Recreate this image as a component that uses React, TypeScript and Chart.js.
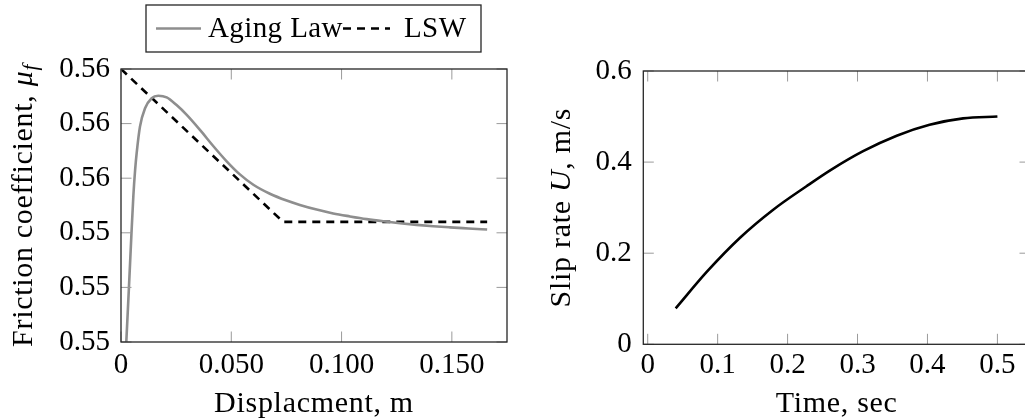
import React, { useEffect, useRef } from 'react';
import { Chart, registerables } from 'chart.js';

Chart.register(...registerables);

// ---------- data ----------
const AGING_X = [0.0024, 0.0036, 0.0047, 0.0056, 0.0064, 0.0071, 0.0086, 0.0109, 0.0139, 0.0169, 0.0207, 0.0252, 0.0298, 0.0358, 0.0418, 0.0479, 0.0539, 0.06, 0.0675, 0.0751, 0.0811, 0.0887, 0.0962, 0.1038, 0.1114, 0.1189, 0.1265, 0.134, 0.1416, 0.1491, 0.1575, 0.166];
const AGING_Y = [0.55, 0.552, 0.5539, 0.55535, 0.5563, 0.55692, 0.55789, 0.55856, 0.55893, 0.55902, 0.55896, 0.55868, 0.55832, 0.55777, 0.55718, 0.55662, 0.55614, 0.55576, 0.55543, 0.55518, 0.55502, 0.55485, 0.55471, 0.5546, 0.5545, 0.55442, 0.55435, 0.55429, 0.55424, 0.5542, 0.55416, 0.55412];
const LSW_X = [0, 0.0735, 0.166];
const LSW_Y = [0.56, 0.5544, 0.5544];

const TIME = [0.04, 0.085, 0.132, 0.179, 0.227, 0.262, 0.308, 0.356, 0.403, 0.451, 0.5];
const SLIP = [0.079, 0.16, 0.234, 0.295, 0.347, 0.383, 0.424, 0.458, 0.482, 0.496, 0.5];

const X1_TICKS = [0, 0.05, 0.1, 0.15];
const X1_LABELS = ['0', '0.050', '0.100', '0.150'];
const Y1_TICKS = [0.55, 0.552, 0.554, 0.556, 0.558, 0.56];
const Y1_LABELS = ['0.55', '0.55', '0.55', '0.56', '0.56', '0.56'];
const X2_TICKS = [0, 0.1, 0.2, 0.3, 0.4, 0.5];
const X2_LABELS = ['0', '0.1', '0.2', '0.3', '0.4', '0.5'];
const Y2_TICKS = [0, 0.2, 0.4, 0.6];
const Y2_LABELS = ['0', '0.2', '0.4', '0.6'];

const SERIES_NAMES = ['Aging Law', 'LSW'];
const X1_TITLE = 'Displacment, m';
const X2_TITLE = 'Time, sec';

// ---------- styles ----------
const SERIF = "'Liberation Serif', 'DejaVu Serif', serif";
const TICK_FONT = { family: SERIF, size: 29, lineHeight: 1.2 };
const TITLE_PX = 30;
const TICK_LEN = 10.5;

type Part = { text: string; italic?: boolean; sub?: boolean };

function drawParts(ctx: CanvasRenderingContext2D, parts: Part[]) {
  const fontOf = (p: Part) => `${p.italic ? 'italic ' : ''}${p.sub ? Math.round(TITLE_PX * 0.7) : TITLE_PX}px ${SERIF}`;
  let total = 0;
  const widths = parts.map((p) => {
    ctx.font = fontOf(p);
    const w = ctx.measureText(p.text).width;
    total += w;
    return w;
  });
  let cur = -total / 2;
  parts.forEach((p, i) => {
    ctx.font = fontOf(p);
    ctx.fillText(p.text, cur, p.sub ? TITLE_PX * 0.17 : 0);
    cur += widths[i];
  });
}

function makeDecor(cfg: { yParts: Part[]; yBaseX: number; xTitle: string; xBaseY: number; legend: boolean }) {
  return {
    id: 'decor',
    afterDatasetsDraw(chart: any) {
      const { ctx, chartArea: a, scales } = chart;
      const xs = scales.x;
      const ys = scales.y;
      ctx.save();
      ctx.strokeStyle = '#9a9a9a';
      ctx.lineWidth = 1;
      ctx.setLineDash([]);
      ctx.beginPath();
      xs.ticks.forEach((t: any) => {
        const px = xs.getPixelForValue(t.value);
        ctx.moveTo(px, a.bottom);
        ctx.lineTo(px, a.bottom - TICK_LEN);
        ctx.moveTo(px, a.top);
        ctx.lineTo(px, a.top + TICK_LEN);
      });
      ys.ticks.forEach((t: any) => {
        const py = ys.getPixelForValue(t.value);
        ctx.moveTo(a.left, py);
        ctx.lineTo(a.left + TICK_LEN, py);
        ctx.moveTo(a.right, py);
        ctx.lineTo(a.right - TICK_LEN, py);
      });
      ctx.stroke();
      ctx.strokeStyle = '#262626';
      ctx.lineWidth = 1.3;
      ctx.strokeRect(a.left, a.top, a.right - a.left, a.bottom - a.top);
      ctx.restore();
    },
    afterDraw(chart: any) {
      const { ctx, chartArea: a } = chart;
      ctx.save();
      ctx.fillStyle = '#000';
      (ctx as any).letterSpacing = '0.7px';
      ctx.textBaseline = 'alphabetic';
      ctx.textAlign = 'left';
      // y title
      ctx.save();
      ctx.translate(cfg.yBaseX, (a.top + a.bottom) / 2);
      ctx.rotate(-Math.PI / 2);
      drawParts(ctx, cfg.yParts);
      ctx.restore();
      // x title
      ctx.save();
      ctx.translate((a.left + a.right) / 2, cfg.xBaseY);
      drawParts(ctx, [{ text: cfg.xTitle }]);
      ctx.restore();
      // legend
      if (cfg.legend) {
        const ds = chart.data.datasets;
        ctx.strokeStyle = '#262626';
        ctx.lineWidth = 1.3;
        ctx.strokeRect(146, 5, 335, 47);
        const lineX = [156, 343];
        const lineW = [45, 47];
        const textX = [208, 404];
        (ctx as any).letterSpacing = '0.4px';
        ctx.font = `29px ${SERIF}`;
        ds.forEach((d: any, i: number) => {
          ctx.save();
          ctx.strokeStyle = d.borderColor;
          ctx.lineWidth = d.borderWidth;
          ctx.setLineDash(d.borderDash || []);
          ctx.beginPath();
          ctx.moveTo(lineX[i], 28.5);
          ctx.lineTo(lineX[i] + lineW[i], 28.5);
          ctx.stroke();
          ctx.restore();
          ctx.fillText(d.label, textX[i], 37);
        });
      }
      ctx.restore();
    },
  };
}

function axis(min: number, max: number, ticks: number[], labels: string[], fit: (s: any) => void, pad: number) {
  return {
    type: 'linear' as const,
    min,
    max,
    afterBuildTicks: (s: any) => {
      s.ticks = ticks.map((v) => ({ value: v }));
    },
    afterFit: fit,
    grid: { display: false, drawTicks: false },
    border: { display: false },
    ticks: {
      autoSkip: false,
      maxRotation: 0,
      minRotation: 0,
      padding: pad,
      color: '#000',
      font: TICK_FONT,
      callback: (_v: any, i: number) => labels[i],
    },
  };
}

function LeftChart() {
  const ref = useRef<HTMLCanvasElement>(null);
  useEffect(() => {
    const chart = new Chart(ref.current!, {
      type: 'line',
      data: {
        datasets: [
          {
            label: SERIES_NAMES[0],
            data: AGING_X.map((x, i) => ({ x, y: AGING_Y[i] })),
            borderColor: '#8e8e8e',
            borderWidth: 2.6,
            pointRadius: 0,
            cubicInterpolationMode: 'monotone',
            fill: false,
          },
          {
            label: SERIES_NAMES[1],
            data: LSW_X.map((x, i) => ({ x, y: LSW_Y[i] })),
            borderColor: '#000000',
            borderWidth: 2.6,
            borderDash: [8, 6],
            pointRadius: 0,
            tension: 0,
            fill: false,
          },
        ],
      },
      options: {
        responsive: false,
        animation: false,
        devicePixelRatio: 1,
        layout: { padding: { left: 0, top: 69, right: 13, bottom: 0 } },
        plugins: { legend: { display: false }, tooltip: { enabled: false } },
        scales: {
          x: axis(0, 0.175, X1_TICKS, X1_LABELS, (s: any) => { s.height = 78; }, 6),
          y: axis(0.55, 0.56, Y1_TICKS, Y1_LABELS, (s: any) => { s.width = 121; }, 11),
        },
      } as any,
      plugins: [
        makeDecor({
          yParts: [{ text: 'Friction coefficient, ' }, { text: 'μ', italic: true }, { text: 'f', italic: true, sub: true }],
          yBaseX: 32,
          xTitle: X1_TITLE,
          xBaseY: 412,
          legend: true,
        }),
      ],
    });
    return () => chart.destroy();
  }, []);
  return <canvas ref={ref} width={520} height={420} style={{ position: 'absolute', left: 0, top: 0 }} />;
}

function RightChart() {
  const ref = useRef<HTMLCanvasElement>(null);
  useEffect(() => {
    const chart = new Chart(ref.current!, {
      type: 'line',
      data: {
        datasets: [
          {
            label: 'U',
            data: TIME.map((x, i) => ({ x, y: SLIP[i] })),
            borderColor: '#000000',
            borderWidth: 2.6,
            pointRadius: 0,
            cubicInterpolationMode: 'monotone',
            fill: false,
          },
        ],
      },
      options: {
        responsive: false,
        animation: false,
        devicePixelRatio: 1,
        layout: { padding: { left: 0, top: 71, right: 10, bottom: 0 } },
        plugins: { legend: { display: false }, tooltip: { enabled: false } },
        scales: {
          x: axis(-0.0063, 0.5466, X2_TICKS, X2_LABELS, (s: any) => { s.height = 75.7; }, 4),
          y: axis(0, 0.6, Y2_TICKS, Y2_LABELS, (s: any) => { s.width = 128.3; }, 11.6),
        },
      } as any,
      plugins: [
        makeDecor({
          yParts: [{ text: 'Slip rate ' }, { text: 'U', italic: true }, { text: ', m/s' }],
          yBaseX: 55,
          xTitle: X2_TITLE,
          xBaseY: 412,
          legend: false,
        }),
      ],
    });
    return () => chart.destroy();
  }, []);
  return <canvas ref={ref} width={525} height={420} style={{ position: 'absolute', left: 515, top: 0 }} />;
}

export default function App() {
  return (
    <div style={{ position: 'fixed', left: 0, top: 0, width: 1025, height: 420, overflow: 'hidden', background: '#fff' }}>
      <LeftChart />
      <RightChart />
    </div>
  );
}
